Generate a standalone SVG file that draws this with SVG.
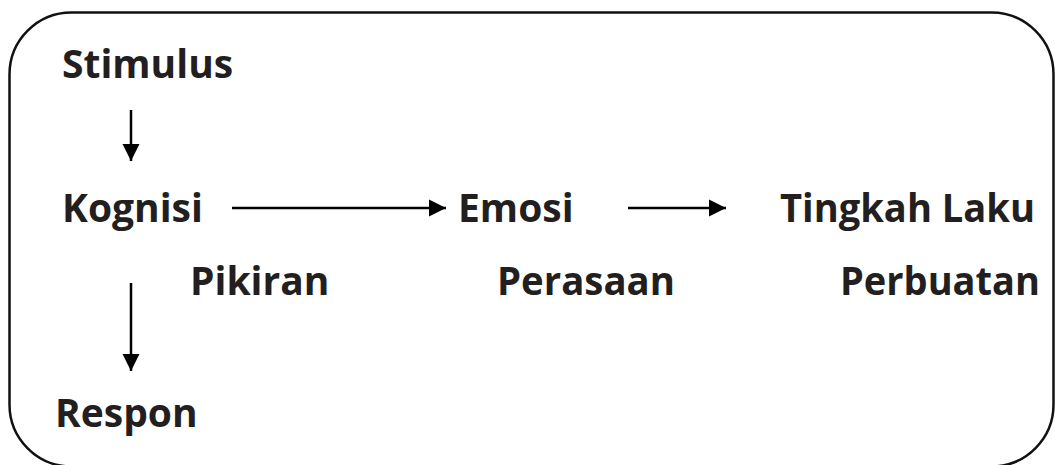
<svg xmlns="http://www.w3.org/2000/svg" width="1055" height="465" viewBox="0 0 1055 465">
<defs>
<style>
.t{font-family:"Open Sans","Noto Sans",sans-serif;font-weight:700;font-size:39px;fill:#231f20}
.c{stroke:#000;stroke-width:2.5;fill:none}
</style>
<marker id="ah" viewBox="0 0 10 10" refX="10" refY="5" markerWidth="7" markerHeight="7" markerUnits="strokeWidth" orient="auto">
<path d="M0,0 L10,5 L0,10 Z" fill="#000"/>
</marker>
</defs>
<rect width="1055" height="465" fill="#fff"/>
<rect x="9.5" y="12.5" width="1044" height="454" rx="62" ry="62" fill="none" stroke="#111" stroke-width="2.5"/>
<g id="connectors">
<line class="c" x1="131" y1="110" x2="131" y2="161" marker-end="url(#ah)"/>
<line class="c" x1="232" y1="208" x2="446" y2="208" marker-end="url(#ah)"/>
<line class="c" x1="628" y1="208" x2="726" y2="208" marker-end="url(#ah)"/>
<line class="c" x1="131" y1="283" x2="131" y2="371" marker-end="url(#ah)"/>
</g>
<g id="stimulus"><text class="t" x="62" y="78">Stimulus</text></g>
<g id="kognisi"><text class="t" x="62" y="222">Kognisi</text></g>
<g id="emosi"><text class="t" x="458" y="222">Emosi</text></g>
<g id="tingkah"><text class="t" x="780" y="222" textLength="255" lengthAdjust="spacingAndGlyphs">Tingkah Laku</text></g>
<g id="pikiran"><text class="t" x="190" y="295">Pikiran</text></g>
<g id="perasaan"><text class="t" x="497" y="295" textLength="178" lengthAdjust="spacingAndGlyphs">Perasaan</text></g>
<g id="perbuatan"><text class="t" x="840" y="295" textLength="200" lengthAdjust="spacingAndGlyphs">Perbuatan</text></g>
<g id="respon"><text class="t" x="55" y="427">Respon</text></g>
</svg>
